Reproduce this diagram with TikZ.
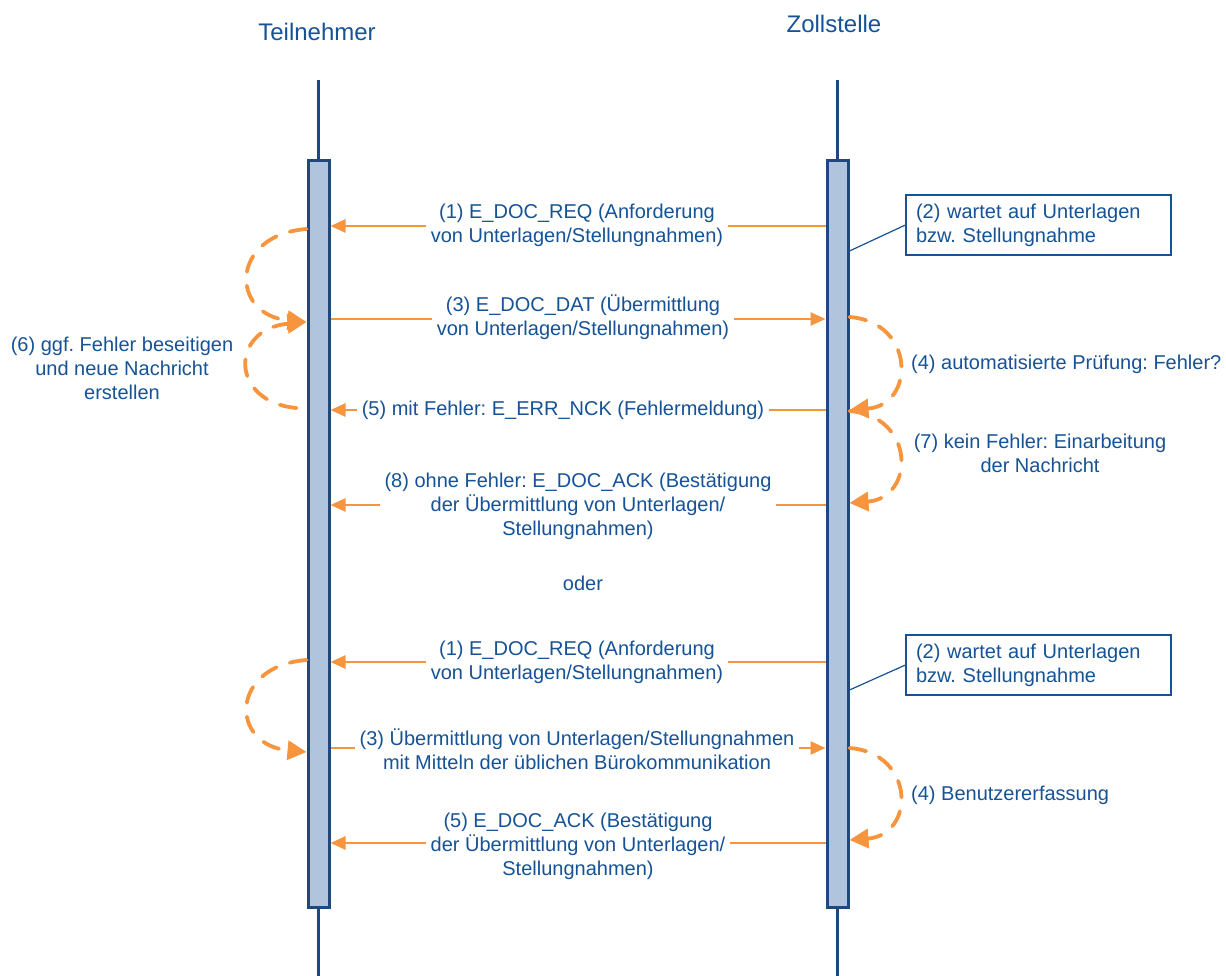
\documentclass[tikz,border=0pt]{standalone}
\usepackage{fontspec}
\setmainfont{Liberation Sans}
\frenchspacing
\usetikzlibrary{arrows.meta}
\definecolor{txtblue}{RGB}{22,82,150}
\definecolor{lineblue}{RGB}{31,73,125}
\definecolor{barfill}{RGB}{176,196,222}
\definecolor{orng}{RGB}{247,148,62}
\tikzset{
  lifeline/.style={draw=lineblue, line width=3pt},
  barbox/.style={draw=lineblue, fill=barfill, line width=3pt, minimum width=21pt, minimum height=746pt, inner sep=0pt},
  msg/.style={draw=orng, line width=2.5pt, -{Triangle[length=15pt,width=13pt]}},
  loop/.style={draw=orng, line width=3.8pt, dash pattern=on 17pt off 14pt, line cap=round, -{Triangle[length=19pt,width=19pt]}},
  lbl/.style={text=txtblue, font=\fontsize{20}{24}\selectfont, align=center, inner sep=0pt},
  msglbl/.style={lbl, fill=white, inner xsep=5pt, inner ysep=1pt},
  title/.style={text=txtblue, font=\fontsize{24}{28}\selectfont, inner sep=0pt},
  notebox/.style={draw=txtblue, line width=1.2pt, fill=white, text=txtblue, font=\fontsize{20}{24}\selectfont, align=left, text width=245pt, inner xsep=10pt, minimum height=60pt},
  noteline/.style={draw=txtblue, line width=1.2pt}
}
\begin{document}
\begin{tikzpicture}[x=1pt,y=-1pt]
\useasboundingbox (0,0) rectangle (1226,976);
% titles
\node[title] (tT) at (317,32) {Teilnehmer};
\node[title] (tZ) at (834,24) {Zollstelle};
% lifelines
\coordinate (lLtop) at (318.5,80);
\coordinate (lLbot) at (318.5,976);
\coordinate (lRtop) at (837.5,80);
\coordinate (lRbot) at (837.5,976);
\draw[lifeline] (lLtop) -- (lLbot);
\draw[lifeline] (lRtop) -- (lRbot);
\node[barbox] (bL) at (318.5,534) {};
\node[barbox] (bR) at (837.5,534) {};
% notes
\node[notebox] (n1) at (1038.5,225) {(2) wartet auf Unterlagen\\bzw. Stellungnahme};
\node[notebox] (n2) at (1038.5,665) {(2) wartet auf Unterlagen\\bzw. Stellungnahme};
\draw[noteline] (n1.west) -- (bR.east |- 0,251);
\draw[noteline] (n2.west) -- (bR.east |- 0,690);
% messages (first scenario)
\draw[msg] (bR.west |- 0,226) -- (bL.east |- 0,226);
\node[msglbl] (m1) at (577,225.5) {(1) E\_DOC\_REQ (Anforderung\\von Unterlagen/Stellungnahmen)};
\draw[msg] (bL.east |- 0,319) -- (bR.west |- 0,319);
\node[msglbl] (m3) at (583,317) {(3) E\_DOC\_DAT (Übermittlung\\von Unterlagen/Stellungnahmen)};
\draw[msg] (bR.west |- 0,410) -- (bL.east |- 0,410);
\node[msglbl] (m5) at (563,410) {(5) mit Fehler: E\_ERR\_NCK (Fehlermeldung)};
\draw[msg] (bR.west |- 0,505) -- (bL.east |- 0,505);
\node[msglbl] (m8) at (578,506) {(8) ohne Fehler: E\_DOC\_ACK (Bestätigung\\der Übermittlung von Unterlagen/\\Stellungnahmen)};
\node[lbl] (oder) at (583,583) {oder};
% messages (second scenario)
\draw[msg] (bR.west |- 0,662) -- (bL.east |- 0,662);
\node[msglbl] (k1) at (577,662.5) {(1) E\_DOC\_REQ (Anforderung\\von Unterlagen/Stellungnahmen)};
\draw[msg] (bL.east |- 0,748) -- (bR.west |- 0,748);
\node[msglbl] (k3) at (577,749.5) {(3) Übermittlung von Unterlagen/Stellungnahmen\\mit Mitteln der üblichen Bürokommunikation};
\draw[msg] (bR.west |- 0,843) -- (bL.east |- 0,843);
\node[msglbl] (k5) at (578,846) {(5) E\_DOC\_ACK (Bestätigung\\der Übermittlung von Unterlagen/\\Stellungnahmen)};
% loops left
\draw[loop] (bL.west |- 0,229) .. controls +(-77,6) and +(-77,-7) .. (bL.west |- 0,322);
\draw[loop] ([xshift=-10pt]bL.west |- 0,408) .. controls +(-67,-6) and +(-77,7) .. (bL.west |- 0,322);
\draw[loop] (bL.west |- 0,660) .. controls +(-77,6) and +(-77,-7) .. (bL.west |- 0,752);
% loops right
\draw[loop] (bR.east |- 0,317) .. controls +(66,5) and +(66,-5) .. (bR.east |- 0,410);
\draw[loop] (bR.east |- 0,411) .. controls +(66,5) and +(66,-5) .. (bR.east |- 0,503);
\draw[loop] (bR.east |- 0,748) .. controls +(66,5) and +(66,-5) .. (bR.east |- 0,840);
% loop labels
\node[lbl] (l6) at (122,368) {(6) ggf. Fehler beseitigen\\und neue Nachricht\\erstellen};
\node[lbl, anchor=west] (l4) at (911,364) {(4) automatisierte Prüfung: Fehler?};
\node[lbl] (l7) at (1040,453) {(7) kein Fehler: Einarbeitung\\der Nachricht};
\node[lbl, anchor=west] (l4b) at (911,795) {(4) Benutzererfassung};
\end{tikzpicture}
\end{document}
